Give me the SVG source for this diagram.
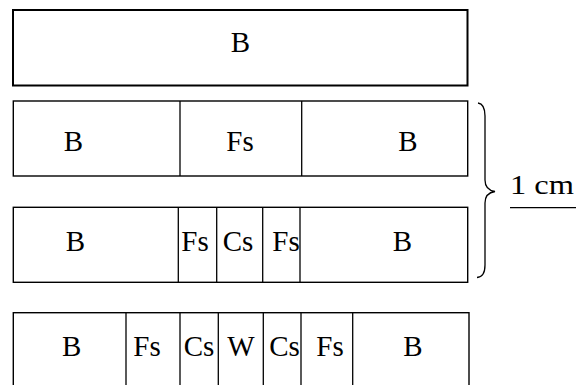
<svg xmlns="http://www.w3.org/2000/svg" width="579" height="385" viewBox="0 0 579 385">
<style>
.box{fill:#fff;stroke:#000;stroke-width:1.4}
.div{stroke:#000;stroke-width:1.3;fill:none}
.t{font-family:'Liberation Serif','Times New Roman',serif;font-size:29px;fill:#000;text-anchor:middle}
</style>
<rect width="579" height="385" fill="#fff"/>
<g id="row1">
<rect x="13" y="10" width="454.5" height="75.5" fill="#fff" stroke="#000" stroke-width="2"/>
<text class="t" x="240.5" y="51.7">B</text>
</g>
<g id="row2">
<rect class="box" x="13.3" y="101" width="454.4" height="75"/>
<line class="div" x1="180" y1="101" x2="180" y2="176"/>
<line class="div" x1="301.7" y1="101" x2="301.7" y2="176"/>
<text class="t" x="73.5" y="150.5">B</text>
<text class="t" x="240" y="150.5">Fs</text>
<text class="t" x="408" y="150.5">B</text>
</g>
<g id="row3">
<rect class="box" x="13.3" y="207.3" width="454.4" height="75"/>
<line class="div" x1="178.3" y1="207.3" x2="178.3" y2="282.3"/>
<line class="div" x1="216.7" y1="207.3" x2="216.7" y2="282.3"/>
<line class="div" x1="262.7" y1="207.3" x2="262.7" y2="282.3"/>
<line class="div" x1="300" y1="207.3" x2="300" y2="282.3"/>
<text class="t" x="75.5" y="251">B</text>
<text class="t" x="195" y="251">Fs</text>
<text class="t" x="238" y="251">Cs</text>
<text class="t" x="286" y="251">Fs</text>
<text class="t" x="402.5" y="251">B</text>
</g>
<g id="row4">
<rect class="box" x="13.3" y="312.7" width="455.7" height="90"/>
<line class="div" x1="126" y1="312.7" x2="126" y2="390"/>
<line class="div" x1="180" y1="312.7" x2="180" y2="390"/>
<line class="div" x1="218.3" y1="312.7" x2="218.3" y2="390"/>
<line class="div" x1="263.3" y1="312.7" x2="263.3" y2="390"/>
<line class="div" x1="301" y1="312.7" x2="301" y2="390"/>
<line class="div" x1="352.7" y1="312.7" x2="352.7" y2="390"/>
<text class="t" x="71.7" y="356">B</text>
<text class="t" x="147" y="356">Fs</text>
<text class="t" x="199" y="356">Cs</text>
<text class="t" x="241" y="356">W</text>
<text class="t" x="284.5" y="356">Cs</text>
<text class="t" x="330" y="356">Fs</text>
<text class="t" x="413" y="356">B</text>
</g>
<g id="scale">
<path class="div" d="M478,103 Q485,104 485,116 L485,180 Q485,190 495,191.5 Q485,193 485,203 L485,265 Q485,277 477,277.5" stroke-width="1.4"/>
<text x="510" y="193.5" font-family="'Liberation Serif','Times New Roman',serif" font-size="27" fill="#000" textLength="64" lengthAdjust="spacingAndGlyphs">1 cm</text>
<line class="div" x1="510" y1="207.7" x2="576" y2="207.7"/>
</g>
</svg>
